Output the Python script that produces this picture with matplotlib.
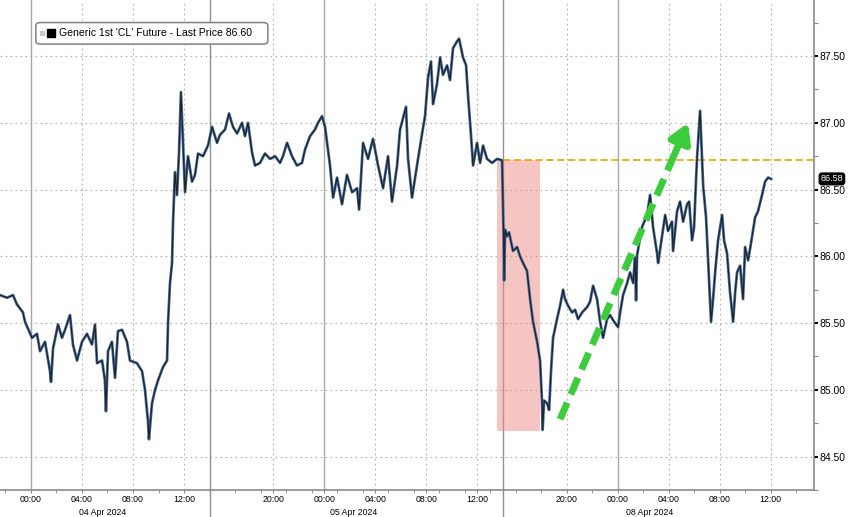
import numpy as np
import matplotlib
matplotlib.use('Agg')
import matplotlib.pyplot as plt
from matplotlib.patches import FancyBboxPatch

plt.rcParams['font.family'] = ['Liberation Sans', 'DejaVu Sans']

# trading-time axis: hours since 04 Apr 2024 00:00, with session breaks removed
hours = [
    -2.43, -1.88, -1.41, -1.10, -0.63, -0.47, 0.08, 0.47, 0.71, 1.10, 1.49, 1.57,
    1.73, 2.12, 2.43, 2.67, 3.06, 3.29, 3.61, 4.00, 4.39, 4.78, 5.02, 5.18,
    5.57, 5.80, 5.88, 6.04, 6.35, 6.59, 6.82, 7.14, 7.53, 7.76, 8.31, 8.71,
    8.94, 9.18, 9.25, 9.49, 9.73, 9.96, 10.35, 10.67, 10.75, 10.90, 11.06, 11.14,
    11.29, 11.45, 11.61, 11.76, 11.92, 12.08, 12.31, 12.63, 12.86, 13.10, 13.49, 13.88,
    14.20, 14.59, 14.82, 15.22, 15.53, 15.84, 16.16, 16.55, 16.78, 17.02, 17.33, 17.57,
    17.96, 18.35, 18.75, 19.14, 19.53, 19.76, 20.08, 20.47, 20.86, 21.25, 21.49, 21.88,
    22.27, 22.51, 22.82, 23.06, 23.45, 23.69, 24.00, 24.39, 24.78, 25.18, 25.57, 25.73,
    26.04, 26.43, 26.82, 27.22, 27.61, 28.00, 28.31, 28.71, 28.94, 29.41, 29.57, 29.88,
    30.27, 30.67, 30.90, 31.14, 31.37, 31.53, 31.84, 32.08, 32.31, 32.63, 32.86, 33.10,
    33.41, 33.57, 33.88, 34.12, 34.27, 34.51, 34.67, 34.98, 35.22, 35.45, 35.76, 36.16,
    36.55, 36.94,
    37.06, 37.10, 37.18, 37.33, 37.49, 37.80, 38.12, 38.35, 38.59, 38.90, 39.14, 39.37,
    39.69, 39.92, 40.08, 40.12, 40.24, 40.47, 40.63, 40.78, 40.94, 41.25, 41.49, 41.73,
    41.88, 42.12, 42.43, 42.67, 42.90, 43.22, 43.61, 43.84, 44.08, 44.39, 44.63, 44.86,
    45.18, 45.41, 45.73, 46.04, 46.20, 46.43, 46.75, 46.98, 47.22, 47.37, 47.45, 47.53,
    47.92, 48.31, 48.55, 48.78, 49.10, 49.18, 49.49, 49.73, 49.96, 50.27, 50.35, 50.67,
    50.90, 51.14, 51.45, 51.61, 51.84, 52.00, 52.16, 52.24, 52.47, 52.63, 52.71, 52.94,
    53.10, 53.33, 53.49, 53.65, 53.88, 54.20, 54.35, 54.59, 54.82, 55.06, 55.22, 55.37,
    55.61, 55.84, 56.00, 56.24, 56.55, 56.78, 57.02, 57.33, 57.57, 57.80, 58.04,
]
price = [
    85.71, 85.69, 85.71, 85.64, 85.58, 85.51, 85.39, 85.42, 85.29, 85.36, 85.14, 85.06,
    85.31, 85.49, 85.39, 85.45, 85.56, 85.34, 85.22, 85.36, 85.42, 85.34, 85.49, 85.20,
    85.22, 85.07, 84.84, 85.29, 85.36, 85.09, 85.44, 85.45, 85.36, 85.22, 85.20, 85.14,
    85.00, 84.76, 84.63, 84.90, 85.00, 85.07, 85.17, 85.22, 85.51, 85.80, 85.95, 86.26,
    86.63, 86.46, 86.78, 87.23, 86.85, 86.48, 86.75, 86.56, 86.61, 86.77, 86.75, 86.83,
    86.97, 86.85, 86.91, 86.95, 87.07, 86.97, 86.92, 87.00, 86.90, 87.00, 86.78, 86.68,
    86.70, 86.77, 86.73, 86.75, 86.70, 86.75, 86.85, 86.75, 86.68, 86.70, 86.80, 86.90,
    86.95, 87.00, 87.05, 86.97, 86.68, 86.44, 86.59, 86.39, 86.61, 86.48, 86.51, 86.35,
    86.85, 86.73, 86.88, 86.68, 86.51, 86.75, 86.41, 86.68, 86.95, 87.12, 86.73, 86.44,
    86.68, 86.92, 87.05, 87.34, 87.46, 87.14, 87.29, 87.49, 87.36, 87.43, 87.32, 87.56,
    87.61, 87.63, 87.49, 87.43, 87.21, 86.90, 86.68, 86.85, 86.70, 86.83, 86.73, 86.70,
    86.73, 86.72,
    86.17, 85.82, 86.20, 86.15, 86.18, 86.04, 86.07, 86.00, 85.95, 85.89, 85.68, 85.51,
    85.36, 85.22, 84.90, 84.70, 84.92, 84.90, 84.85, 85.14, 85.39, 85.53, 85.63, 85.75,
    85.68, 85.63, 85.58, 85.60, 85.53, 85.58, 85.62, 85.66, 85.78, 85.68, 85.51, 85.39,
    85.53, 85.56, 85.51, 85.47, 85.58, 85.71, 85.80, 85.88, 85.80, 85.99, 85.67, 86.01,
    86.22, 86.31, 86.46, 86.22, 86.02, 85.95, 86.15, 86.31, 86.19, 86.26, 86.04, 86.34,
    86.41, 86.26, 86.39, 86.41, 86.12, 86.22, 86.59, 86.75, 87.09, 86.72, 86.53, 86.29,
    85.97, 85.51, 85.68, 85.88, 86.12, 86.31, 86.12, 86.02, 85.73, 85.51, 85.73, 85.88,
    85.93, 85.68, 86.07, 85.97, 86.15, 86.29, 86.34, 86.46, 86.56, 86.59, 86.58,
]

tick_pos = [0, 4, 8, 12, 19, 23, 27, 31, 35, 42, 46, 50, 54, 58]
tick_lab = ['00:00', '04:00', '08:00', '12:00', '20:00', '00:00', '04:00', '08:00',
            '12:00', '20:00', '00:00', '04:00', '08:00', '12:00']
midnights = [0, 23, 46]
session_breaks = [14.04, 37.0]
date_pos = [5.65, 25.33, 48.55]
date_lab = ['04 Apr 2024', '05 Apr 2024', '08 Apr 2024']

friday_close = 86.72
box_x = (36.55, 39.92)
box_y = (84.69, 86.72)
arrow_start = (41.49, 84.78)
arrow_end = (51.53, 87.0)
last_price = 86.58

fig = plt.figure(figsize=(8.48, 5.17), dpi=100)
ax = fig.add_axes([0.0, 0.0522, 0.960, 0.9478])

x0, x1 = -2.43, 61.41
y0, y1 = 84.34, 87.92
ax.set_xlim(x0, x1)
ax.set_ylim(y0, y1)

# grid
for p in np.arange(84.5, 87.6, 0.5):
    ax.axhline(p, color='#b0b0b0', lw=0.8, ls=(0, (1.5, 3)), zorder=0)
for t in tick_pos:
    if t in midnights:
        ax.axvline(t, color='#a8a8a8', lw=1.0, zorder=0)
    else:
        ax.axvline(t, color='#b0b0b0', lw=0.8, ls=(0, (1.5, 3)), zorder=0)
for b in session_breaks:
    ax.plot([b, b], [-0.056, 1], transform=ax.get_xaxis_transform(),
            color='#909090', lw=1.0, clip_on=False, zorder=0)

# highlight box and reference line
ax.fill_between(box_x, box_y[0], box_y[1], color='#f08a8a', alpha=0.5, lw=0, zorder=1)
ax.plot([session_breaks[1], x1], [friday_close, friday_close], color='#f2a80a',
        lw=1.3, ls=(0, (4, 2)), zorder=2)

# price line
ax.plot(hours, price, color='#4a6f9c', lw=2.0, zorder=3)
ax.plot(hours, price, color='#1c2430', lw=0.9, zorder=4)

# green dashed arrow
frac = 0.9
mid = (arrow_start[0] + (arrow_end[0] - arrow_start[0]) * frac,
       arrow_start[1] + (arrow_end[1] - arrow_start[1]) * frac)
ax.plot([arrow_start[0], mid[0]], [arrow_start[1], mid[1]], color='#3ccc3c',
        lw=5, ls=(0, (2.6, 1.3)), zorder=5, solid_capstyle='butt')
ax.annotate('', xy=arrow_end, xytext=mid,
            arrowprops=dict(arrowstyle='-|>,head_length=1.1,head_width=0.65',
                            color='#3ccc3c', lw=5, shrinkA=0, shrinkB=0), zorder=5)

# axes styling
for s in ['top', 'left']:
    ax.spines[s].set_visible(False)
for s in ['right', 'bottom']:
    ax.spines[s].set_color('#8a8a8a')
    ax.spines[s].set_linewidth(1.2)

ax.yaxis.tick_right()
ax.set_yticks(np.arange(84.5, 87.6, 0.5))
ax.set_yticklabels(['%.2f' % v for v in np.arange(84.5, 87.6, 0.5)], fontsize=7.5)
ax.set_yticks(np.arange(84.25, 87.9, 0.5), minor=True)
ax.tick_params(axis='y', which='major', length=3, width=1.5, color='black', pad=1)
ax.tick_params(axis='y', which='minor', length=3, width=0.8, color='#8a8a8a')

ax.set_xticks(tick_pos)
ax.set_xticklabels(tick_lab, fontsize=6.3)
ax.set_xticks(np.arange(-2, 61, 2), minor=True)
ax.tick_params(axis='x', which='major', length=2, color='#8a8a8a', pad=1.5)
ax.tick_params(axis='x', which='minor', length=2, color='#8a8a8a')
for xp, lab in zip(date_pos, date_lab):
    ax.text(xp, -0.0455, lab, transform=ax.get_xaxis_transform(), ha='center',
            va='center', fontsize=6.3)

# last price tag
ax.text(1.008, last_price, '%.2f' % last_price, transform=ax.get_yaxis_transform(),
        ha='left', va='center', fontsize=6.5, color='white',
        bbox=dict(boxstyle='round,pad=0.15,rounding_size=0.3', fc='black', ec='black'),
        zorder=10, clip_on=False)

# legend box
ax.add_patch(FancyBboxPatch((0.044, 0.910), 0.285, 0.044, transform=ax.transAxes,
                            boxstyle='round,pad=0,rounding_size=0.006',
                            fc='white', ec='#808080', lw=1.1, zorder=10))
ax.plot([0.052], [0.932], 's', ms=3.5, color='#c8c8c8', transform=ax.transAxes, zorder=11)
ax.plot([0.063], [0.932], 's', ms=6, color='black', transform=ax.transAxes, zorder=11)
ax.text(0.073, 0.932, "Generic 1st 'CL' Future - Last Price 86.60",
        transform=ax.transAxes, ha='left', va='center', fontsize=7.6, zorder=11)

fig.savefig('out.png', dpi=100)
